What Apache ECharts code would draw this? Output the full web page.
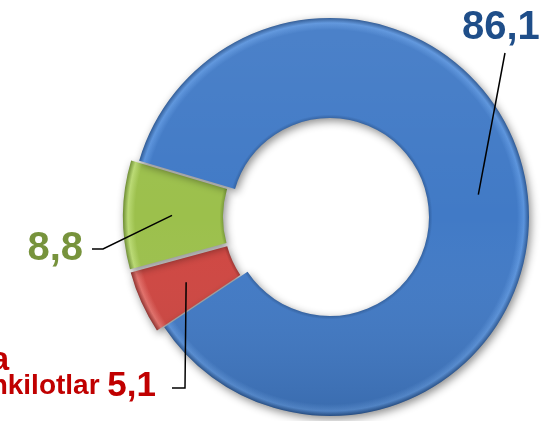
<!DOCTYPE html>
<html><head><meta charset="utf-8">
<script src="https://cdn.jsdelivr.net/npm/echarts@6/dist/echarts.min.js"></script>
<style>html,body{margin:0;padding:0;background:#fff}#c{width:548px;height:421px}</style>
</head><body><div id="c"></div>
<script>
const categories = ['Boshqa tashkilotlar', 'Ikkinchi guruh', 'Asosiy guruh'];
const values = [5.1, 8.8, 86.1];
const exploded = [true, true, false];
const labelColors = ['#C00000', '#77933C', '#1F4E89'];
const baseColors = ['#CF4641', '#9CC04C', '#417AC6'];
const lightColors = ['#E4706A', '#BADA74', '#5A93DC'];
const darkColors = ['#8E2E2B', '#6E8E33', '#2B5793'];

const CX = 330, CY = 217, R0 = 99, R1 = 199, START = 213.6, OFFSET = 8;
const FONT = 'Liberation Sans, Arial, sans-serif';
const total = values.reduce((a, b) => a + b, 0);
function anchor(i) {
  let cum = 0;
  for (let k = 0; k < i; k++) cum += values[k];
  const a0 = START - cum / total * 360;
  const a1 = a0 - values[i] / total * 360;
  const mid = (a0 + a1) / 2 * Math.PI / 180;
  const r = 150 + (exploded[i] ? OFFSET : 0);
  return [CX + r * Math.cos(mid), CY - r * Math.sin(mid)];
}
function fmt(v) { return v.toFixed(1).replace('.', ','); }
function bevel(i) {
  return {
    type: 'radial', x: CX, y: CY, r: R1, global: true,
    colorStops: [
      { offset: 0.49, color: darkColors[i] },
      { offset: 0.515, color: baseColors[i] },
      { offset: 0.94, color: baseColors[i] },
      { offset: 0.975, color: lightColors[i] },
      { offset: 1, color: darkColors[i] }
    ]
  };
}
const labelSpots = [
  { x: 156, y: 374, align: 'right', line: [[185, 388], [172, 388]] },
  { x: 83, y: 249, align: 'right', line: [[103, 249], [92, 249]] },
  { x: 462, y: 28, align: 'left', line: [[505, 53], [505, 53]] }
];

const mainData = values.map((v, i) => ({
  name: categories[i], value: v, selected: exploded[i],
  itemStyle: { color: bevel(i) },
  select: { itemStyle: { color: bevel(i), borderWidth: 0 } }
}));
const plainData = values.map((v, i) => ({
  name: categories[i], value: v, selected: exploded[i]
}));
const labelData = values.map((v, i) => ({ name: categories[i], value: v }));
const overlayFill = {
  type: 'linear', x: 0, y: CY - R1, x2: 0, y2: CY + R1, global: true,
  colorStops: [
    { offset: 0, color: 'rgba(255,255,255,0.06)' },
    { offset: 0.5, color: 'rgba(255,255,255,0)' },
    { offset: 1, color: 'rgba(0,0,0,0.12)' }
  ]
};
const common = {
  type: 'pie', center: [CX, CY], radius: [R0, R1], startAngle: START, clockwise: true,
  selectedMode: 'multiple', selectedOffset: OFFSET, emphasis: { disabled: true }
};
const richBase = { fontWeight: 'bold', fontFamily: FONT, align: 'right' };

const chart = echarts.init(document.getElementById('c'));
chart.setOption({
  animation: false,
  backgroundColor: '#ffffff',
  series: [
    Object.assign({}, common, {
      silent: true,
      itemStyle: { shadowBlur: 9, shadowColor: 'rgba(0,0,0,0.45)', shadowOffsetX: 2, shadowOffsetY: 3, borderWidth: 0 },
      label: { show: false }, labelLine: { show: false },
      data: mainData
    }),
    Object.assign({}, common, {
      silent: true,
      label: { show: false }, labelLine: { show: false },
      itemStyle: { color: overlayFill, borderWidth: 0 },
      select: { itemStyle: { color: overlayFill, borderWidth: 0 } },
      data: plainData
    }),
    Object.assign({}, common, {
      silent: true,
      z: 5,
      selectedMode: false,
      avoidLabelOverlap: false,
      itemStyle: { color: 'rgba(0,0,0,0)', borderWidth: 0 },
      label: {
        show: true,
        fontFamily: FONT,
        fontWeight: 'bold',
        formatter: function (p) {
          const i = p.dataIndex;
          if (i === 0) {
            const parts = categories[0].split(' ');
            return '{n1|' + parts[0] + '}\n{n2|' + parts.slice(1).join(' ') + ' }{v0|' + fmt(values[0]) + '}';
          }
          return '{v' + i + '|' + fmt(values[i]) + '}';
        },
        rich: {
          n1: Object.assign({}, richBase, { fontSize: 33, color: labelColors[0], lineHeight: 24, padding: [0, 147, 0, 0] }),
          n2: Object.assign({}, richBase, { fontSize: 28, color: labelColors[0], lineHeight: 26 }),
          v0: Object.assign({}, richBase, { fontSize: 35, color: labelColors[0], lineHeight: 26 }),
          v1: Object.assign({}, richBase, { fontSize: 40, color: labelColors[1] }),
          v2: Object.assign({}, richBase, { fontSize: 40, color: labelColors[2], align: 'left' })
        }
      },
      labelLine: { show: true, lineStyle: { color: '#000', width: 1.5 } },
      labelLayout: function (p) {
        const s = labelSpots[p.dataIndex];
        return {
          x: s.x, y: s.y, align: s.align, verticalAlign: 'middle',
          labelLinePoints: [anchor(p.dataIndex), s.line[0], s.line[1]]
        };
      },
      data: labelData
    })
  ]
});
</script>
</body></html>
